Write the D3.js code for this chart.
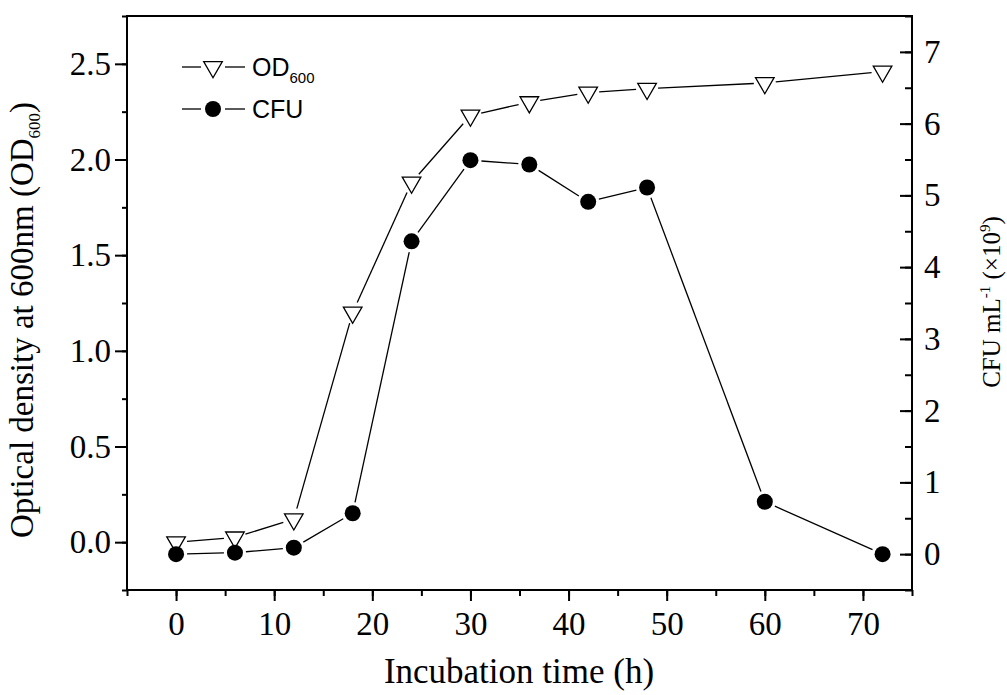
<!DOCTYPE html>
<html>
<head>
<meta charset="utf-8">
<style>
body { margin: 0; background: #fff; }
svg text { fill: #000; }
.serif { font-family: "Liberation Serif", "Times New Roman", serif; }
.sans { font-family: "Liberation Sans", Arial, sans-serif; }
</style>
</head>
<body>
<svg id="chart" width="1007" height="695"></svg>
<script src="https://cdn.jsdelivr.net/npm/d3@7"></script>
<script>
// incubation time (h)
var hours = [0, 6, 12, 18, 24, 30, 36, 42, 48, 60, 72];
// optical density, left axis
var od600 = [0.00, 0.025, 0.12, 1.20, 1.88, 2.23, 2.30, 2.35, 2.37, 2.40, 2.46];
// CFU per mL (x10^9), right axis
var cfu = [0.00, 0.02, 0.09, 0.57, 4.36, 5.49, 5.43, 4.91, 5.11, 0.73, 0.00];

var xTicks = [0, 10, 20, 30, 40, 50, 60, 70];
var yLeftTicks = [0.0, 0.5, 1.0, 1.5, 2.0, 2.5];
var yRightTicks = [0, 1, 2, 3, 4, 5, 6, 7];

var svg = d3.select("#chart");
var m = { left: 127, right: 912, top: 16, bottom: 590 };

var x = d3.scaleLinear().domain([-5, 75]).range([m.left, m.right]);
var yL = d3.scaleLinear().domain([-0.25, 2.75]).range([m.bottom, m.top]);
var yR = d3.scaleLinear().domain([-0.5, 7.5]).range([m.bottom, m.top]);

function styleAxis(g) {
  g.select(".domain").remove();
  g.selectAll("line").attr("stroke", "#000").attr("stroke-width", 2);
  g.selectAll("text").attr("class", "serif").style("font-size", "33px").attr("fill", "#000");
}

// minor ticks
svg.append("g").attr("transform", "translate(0," + m.bottom + ")")
  .call(d3.axisBottom(x).tickValues(d3.range(-5, 76, 5)).tickSize(6).tickFormat(""))
  .call(styleAxis);
svg.append("g").attr("transform", "translate(" + m.left + ",0)")
  .call(d3.axisLeft(yL).tickValues(d3.range(-0.25, 2.76, 0.25)).tickSize(5).tickFormat(""))
  .call(styleAxis);
svg.append("g").attr("transform", "translate(" + m.right + ",0)")
  .call(d3.axisLeft(yR).tickValues(d3.range(-0.5, 7.51, 0.5)).tickSize(7).tickFormat(""))
  .call(styleAxis);

// major ticks
svg.append("g").attr("transform", "translate(0," + m.bottom + ")")
  .call(d3.axisBottom(x).tickValues(xTicks).tickSize(11).tickPadding(11).tickFormat(d3.format("d")))
  .call(styleAxis);
svg.append("g").attr("transform", "translate(" + m.left + ",0)")
  .call(d3.axisLeft(yL).tickValues(yLeftTicks).tickSize(12).tickPadding(4).tickFormat(d3.format(".1f")))
  .call(styleAxis);
var gr = svg.append("g").attr("transform", "translate(" + m.right + ",0)")
  .call(d3.axisLeft(yR).tickValues(yRightTicks).tickSize(12).tickFormat(d3.format("d")))
  .call(styleAxis);
gr.selectAll("text").attr("text-anchor", "start").attr("x", 12);

// frame
svg.append("rect").attr("x", m.left).attr("y", m.top)
  .attr("width", m.right - m.left).attr("height", m.bottom - m.top)
  .attr("fill", "none").attr("stroke", "#000").attr("stroke-width", 2);

// segments with small gaps at the markers
function gappedSegments(xs, ys, yScale, gap) {
  var segs = [];
  for (var i = 0; i < xs.length - 1; i++) {
    var x0 = x(xs[i]), y0 = yScale(ys[i]), x1 = x(xs[i + 1]), y1 = yScale(ys[i + 1]);
    var dx = x1 - x0, dy = y1 - y0, len = Math.sqrt(dx * dx + dy * dy);
    if (len <= 2 * gap) continue;
    var ux = dx / len, uy = dy / len;
    segs.push([x0 + ux * gap, y0 + uy * gap, x1 - ux * gap, y1 - uy * gap]);
  }
  return segs;
}

var tri = d3.symbol().type(d3.symbolTriangle).size(150);

svg.append("g").selectAll("line")
  .data(gappedSegments(hours, od600, yL, 11))
  .join("line")
  .attr("x1", d => d[0]).attr("y1", d => d[1]).attr("x2", d => d[2]).attr("y2", d => d[3])
  .attr("stroke", "#000").attr("stroke-width", 1.3);

svg.append("g").selectAll("line")
  .data(gappedSegments(hours, cfu, yR, 11))
  .join("line")
  .attr("x1", d => d[0]).attr("y1", d => d[1]).attr("x2", d => d[2]).attr("y2", d => d[3])
  .attr("stroke", "#000").attr("stroke-width", 1.3);

svg.append("g").selectAll("path")
  .data(hours)
  .join("path")
  .attr("d", tri)
  .attr("transform", (d, i) => "translate(" + x(d) + "," + yL(od600[i]) + ") rotate(180)")
  .attr("fill", "#fff").attr("stroke", "#000").attr("stroke-width", 1.3);

svg.append("g").selectAll("circle")
  .data(hours)
  .join("circle")
  .attr("cx", d => x(d)).attr("cy", (d, i) => yR(cfu[i]))
  .attr("r", 8).attr("fill", "#000");

// legend
var leg = svg.append("g");
[[67, "tri"], [109, "circ"]].forEach(function (r) {
  leg.append("line").attr("x1", 182).attr("x2", 201).attr("y1", r[0]).attr("y2", r[0])
    .attr("stroke", "#000").attr("stroke-width", 1.3);
  leg.append("line").attr("x1", 225).attr("x2", 245).attr("y1", r[0]).attr("y2", r[0])
    .attr("stroke", "#000").attr("stroke-width", 1.3);
  if (r[1] == "tri") {
    leg.append("path").attr("d", tri)
      .attr("transform", "translate(213," + r[0] + ") rotate(180)")
      .attr("fill", "#fff").attr("stroke", "#000").attr("stroke-width", 1.3);
  } else {
    leg.append("circle").attr("cx", 213).attr("cy", r[0]).attr("r", 8).attr("fill", "#000");
  }
});
var t1 = leg.append("text").attr("class", "sans").attr("x", 252).attr("y", 76).style("font-size", "25px");
t1.append("tspan").text("OD");
t1.append("tspan").attr("dy", 7).style("font-size", "15px").text("600");
leg.append("text").attr("class", "sans").attr("x", 252).attr("y", 118).style("font-size", "25px").text("CFU");

// axis titles
svg.append("text").attr("class", "serif")
  .attr("x", 519).attr("y", 683)
  .attr("text-anchor", "middle").style("font-size", "35px")
  .text("Incubation time (h)");

var yt = svg.append("text").attr("class", "serif")
  .attr("transform", "translate(33,320) rotate(-90)")
  .attr("text-anchor", "middle").style("font-size", "33px");
yt.append("tspan").text("Optical density at 600nm (OD");
yt.append("tspan").attr("dy", 7).style("font-size", "17px").text("600");
yt.append("tspan").attr("dy", -7).text(")");

var rt = svg.append("text").attr("class", "serif")
  .attr("transform", "translate(1000,302) rotate(-90)")
  .attr("text-anchor", "middle").style("font-size", "25px");
rt.append("tspan").text("CFU mL");
rt.append("tspan").attr("dy", -10).style("font-size", "15px").text("-1");
rt.append("tspan").attr("dy", 10).text(" (×10");
rt.append("tspan").attr("dy", -10).style("font-size", "15px").text("9");
rt.append("tspan").attr("dy", 10).text(")");
</script>
</body>
</html>
